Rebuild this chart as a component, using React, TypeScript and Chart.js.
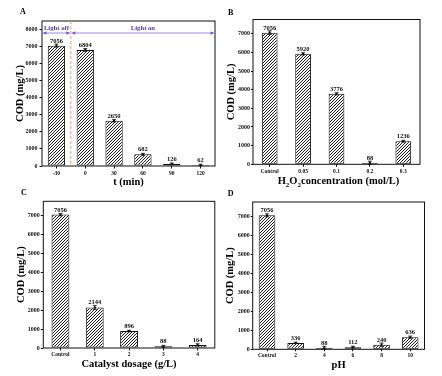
import React, { useEffect, useRef } from 'react';
import { Chart, registerables } from 'chart.js';

Chart.register(...registerables);

const FONT = '"Liberation Serif", "Times New Roman", serif';

// ---- Data ----
const catsA = ['-30', '0', '30', '60', '90', '120'];
const valsA = [7056, 6804, 2650, 682, 126, 62];
const errA = [90, 80, 70, 60, 50, 40];
const yTicksA = [0, 1000, 2000, 3000, 4000, 5000, 6000, 7000, 8000];

const catsB = ['Control', '0.05', '0.1', '0.2', '0.3'];
const valsB = [7056, 5920, 3776, 88, 1236];
const errB = [100, 60, 60, 80, 50];

const catsC = ['Control', '1', '2', '3', '4'];
const valsC = [7056, 2144, 896, 88, 164];
const errC = [60, 110, 40, 50, 60];

const catsD = ['Control', '2', '4', '6', '8', '10'];
const valsD = [7056, 336, 88, 112, 240, 636];
const errD = [80, 40, 70, 50, 90, 60];

const yTicksBCD = [0, 1000, 2000, 3000, 4000, 5000, 6000, 7000];

const yTitle = 'COD (mg/L)';
const xTitleA = 't (min)';
const xTitleBParts = ['H', '2', 'O', '2', 'concentration (mol/L)'];
const xTitleC = 'Catalyst dosage (g/L)';
const xTitleD = 'pH';
const lightOff = 'Light off';
const lightOn = 'Light on';

type Cfg = {
  letter: string; letterX: number; letterY: number;
  left: number; top: number;
  cats: string[]; vals: number[]; errs: number[];
  yMax: number; yTicks: number[];
  padTop: number; padRight: number; yWidth: number; xHeight: number;
  barPct: number;
  yTitlePad: number; yTickLen: number; yTickPad: number;
  xTickLen: number; xTickPad: number;
  xTitle: string | null; xTitlePad: number;
  customTitleY?: number;
  light?: boolean;
};

const panels: Cfg[] = [
  {
    letter: 'A', letterX: 20, letterY: 14.3, left: 0, top: 0,
    cats: catsA, vals: valsA, errs: errA, yMax: 8500, yTicks: yTicksA,
    padTop: 21, padRight: 6, yWidth: 42, xHeight: 22, barPct: 0.6,
    yTitlePad: 14.75, yTickLen: 2.5, yTickPad: 2, xTickLen: 2.5, xTickPad: 2,
    xTitle: xTitleA, xTitlePad: 0.25, light: true,
  },
  {
    letter: 'B', letterX: 7, letterY: 15, left: 221, top: 0,
    cats: catsB, vals: valsB, errs: errB, yMax: 7760, yTicks: yTicksBCD,
    padTop: 19.5, padRight: 22, yWidth: 32, xHeight: 23.7, barPct: 0.47,
    yTitlePad: 5.25, yTickLen: 2, yTickPad: 1, xTickLen: 2.5, xTickPad: 2.15,
    xTitle: null, xTitlePad: 0, customTitleY: 181.7,
  },
  {
    letter: 'C', letterX: 21, letterY: 7.3, left: 0, top: 188,
    cats: catsC, vals: valsC, errs: errC, yMax: 7760, yTicks: yTicksBCD,
    padTop: 13.3, padRight: 6.2, yWidth: 43.3, xHeight: 28, barPct: 0.52,
    yTitlePad: 16, yTickLen: 2.5, yTickPad: 1, xTickLen: 2.5, xTickPad: 1.45,
    xTitle: xTitleC, xTitlePad: 6.25,
  },
  {
    letter: 'D', letterX: 6.7, letterY: 8.3, left: 221, top: 188,
    cats: catsD, vals: valsD, errs: errD, yMax: 7760, yTicks: yTicksBCD,
    padTop: 14, padRight: 17.5, yWidth: 31.7, xHeight: 26.7, barPct: 0.58,
    yTitlePad: 4.25, yTickLen: 2, yTickPad: 1, xTickLen: 2, xTickPad: 1.25,
    xTitle: xTitleD, xTitlePad: 5.75,
  },
];

function makeHatch(ctx: CanvasRenderingContext2D) {
  const s = 3;
  const c = document.createElement('canvas');
  c.width = s; c.height = s;
  const g = c.getContext('2d')!;
  g.fillStyle = '#ffffff';
  g.fillRect(0, 0, s, s);
  g.strokeStyle = '#1a1a1a';
  g.lineWidth = 1;
  g.beginPath();
  g.moveTo(0, s); g.lineTo(s, 0);
  g.moveTo(-1, 1); g.lineTo(1, -1);
  g.moveTo(s - 1, s + 1); g.lineTo(s + 1, s - 1);
  g.stroke();
  return ctx.createPattern(c, 'repeat')!;
}

function arrowHead(ctx: CanvasRenderingContext2D, x: number, y: number, dir: number) {
  ctx.beginPath();
  ctx.moveTo(x, y);
  ctx.lineTo(x - dir * 3.5, y - 1.8);
  ctx.lineTo(x - dir * 3.5, y + 1.8);
  ctx.closePath();
  ctx.fill();
}

function Panel({ cfg }: { cfg: Cfg }) {
  const ref = useRef<HTMLCanvasElement>(null);
  useEffect(() => {
    const canvas = ref.current!;
    const ctx0 = canvas.getContext('2d')!;
    const hatch = makeHatch(ctx0);
    const deco = {
      id: 'deco' + cfg.letter,
      afterDatasetsDraw(chart: any) {
        const { ctx, chartArea: a, scales } = chart;
        const xs = scales.x, ys = scales.y;
        ctx.save();
        cfg.vals.forEach((v, i) => {
          const px = xs.getPixelForValue(i);
          const py = ys.getPixelForValue(v);
          const t = ys.getPixelForValue(v + cfg.errs[i]);
          const b = ys.getPixelForValue(Math.max(0, v - cfg.errs[i]));
          ctx.strokeStyle = '#111';
          ctx.lineWidth = 0.8;
          ctx.beginPath();
          ctx.moveTo(px, t); ctx.lineTo(px, b);
          ctx.moveTo(px - 2, t); ctx.lineTo(px + 2, t);
          ctx.moveTo(px - 2, b); ctx.lineTo(px + 2, b);
          ctx.stroke();
          ctx.fillStyle = '#111';
          ctx.fillRect(px - 1, py - 1, 2, 2);
          ctx.font = `bold 6.5px ${FONT}`;
          ctx.textAlign = 'center';
          ctx.textBaseline = 'bottom';
          ctx.fillText(String(v), px, py - 1.5);
        });
        ctx.strokeStyle = '#111';
        ctx.lineWidth = 1;
        ctx.strokeRect(a.left, a.top, a.right - a.left, a.bottom - a.top);
        if (cfg.light) {
          const dx = (xs.getPixelForValue(0) + xs.getPixelForValue(1)) / 2;
          ctx.strokeStyle = '#f39a5b';
          ctx.setLineDash([3, 2]);
          ctx.beginPath();
          ctx.moveTo(dx, a.top); ctx.lineTo(dx, a.bottom);
          ctx.stroke();
          ctx.setLineDash([]);
          const ay = a.top + 12;
          ctx.strokeStyle = '#8e6ad8';
          ctx.fillStyle = '#7a55cc';
          ctx.lineWidth = 0.8;
          ctx.beginPath();
          ctx.moveTo(a.left + 1, ay); ctx.lineTo(dx - 1, ay);
          ctx.moveTo(dx + 1, ay); ctx.lineTo(a.right - 1, ay);
          ctx.stroke();
          arrowHead(ctx, a.left + 1, ay, -1);
          arrowHead(ctx, dx - 1, ay, 1);
          arrowHead(ctx, dx + 1, ay, -1);
          arrowHead(ctx, a.right - 1, ay, 1);
          ctx.fillStyle = '#4b3aa0';
          ctx.font = `bold 6.7px ${FONT}`;
          ctx.textAlign = 'center';
          ctx.textBaseline = 'middle';
          ctx.fillText(lightOff, (a.left + dx) / 2, ay - 5.2);
          ctx.fillText(lightOn, (dx + a.right) / 2, ay - 5.2);
        }
        if (cfg.customTitleY) {
          const main = `bold 10.5px ${FONT}`;
          const sub = `bold 7px ${FONT}`;
          const parts = xTitleBParts.map((s, i) => ({ s, sub: i === 1 || i === 3 }));
          let total = 0;
          parts.forEach(p => { ctx.font = p.sub ? sub : main; total += ctx.measureText(p.s).width; });
          let x = (a.left + a.right) / 2 + 2 - total / 2;
          const y = cfg.customTitleY;
          ctx.fillStyle = '#000';
          ctx.textAlign = 'left';
          ctx.textBaseline = 'middle';
          parts.forEach(p => {
            ctx.font = p.sub ? sub : main;
            ctx.fillText(p.s, x, p.sub ? y + 3 : y);
            x += ctx.measureText(p.s).width;
          });
        }
        ctx.fillStyle = '#000';
        ctx.font = `bold 8px ${FONT}`;
        ctx.textAlign = 'left';
        ctx.textBaseline = 'alphabetic';
        ctx.fillText(cfg.letter, cfg.letterX, cfg.letterY);
        ctx.restore();
      },
    };
    const tickFont = { family: FONT, size: 5.5, weight: 'bold' as const, lineHeight: 1 };
    const chart = new Chart(canvas, {
      type: 'bar',
      data: {
        labels: cfg.cats,
        datasets: [{
          data: cfg.vals,
          backgroundColor: hatch,
          borderColor: '#111',
          borderWidth: 1,
          borderSkipped: false,
          barPercentage: cfg.barPct,
          categoryPercentage: 1,
        }],
      },
      options: {
        animation: false,
        responsive: false,
        devicePixelRatio: 1,
        layout: { padding: { top: cfg.padTop, right: cfg.padRight, left: 0, bottom: 0 } },
        plugins: { legend: { display: false }, tooltip: { enabled: false } },
        scales: {
          x: {
            type: 'category',
            offset: true,
            grid: { display: true, drawOnChartArea: false, drawTicks: true, tickLength: cfg.xTickLen, offset: false, color: '#111', lineWidth: 1 },
            border: { display: false },
            ticks: { font: tickFont, color: '#111', padding: cfg.xTickPad, maxRotation: 0, autoSkip: false },
            title: {
              display: !!cfg.xTitle, text: cfg.xTitle || '', color: '#000',
              font: { family: FONT, size: 10.5, weight: 'bold', lineHeight: 1 },
              padding: { top: 0, bottom: cfg.xTitlePad },
            },
            afterFit: (s: any) => { s.height = cfg.xHeight; },
          },
          y: {
            min: 0, max: cfg.yMax,
            grid: { display: true, drawOnChartArea: false, drawTicks: true, tickLength: cfg.yTickLen, color: '#111', lineWidth: 1 },
            border: { display: false },
            afterBuildTicks: (s: any) => { s.ticks = cfg.yTicks.map(v => ({ value: v })); },
            ticks: {
              color: '#111', padding: cfg.yTickPad,
              font: { family: FONT, size: 6, weight: 'bold', lineHeight: 1 },
              callback: (v: any) => String(v),
            },
            title: {
              display: true, text: yTitle, color: '#000',
              font: { family: FONT, size: 10.5, weight: 'bold', lineHeight: 1 },
              padding: cfg.yTitlePad,
            },
            afterFit: (s: any) => { s.width = cfg.yWidth; },
          },
        },
      },
      plugins: [deco],
    } as any);
    return () => chart.destroy();
  }, [cfg]);
  return (
    <canvas
      ref={ref}
      width={221}
      height={188}
      style={{ position: 'absolute', left: cfg.left, top: cfg.top, width: 221, height: 188 }}
    />
  );
}

export default function App() {
  return (
    <div style={{ position: 'absolute', left: 0, top: 0, width: 442, height: 376, background: '#fff', overflow: 'hidden' }}>
      {panels.map(p => <Panel key={p.letter} cfg={p} />)}
    </div>
  );
}
